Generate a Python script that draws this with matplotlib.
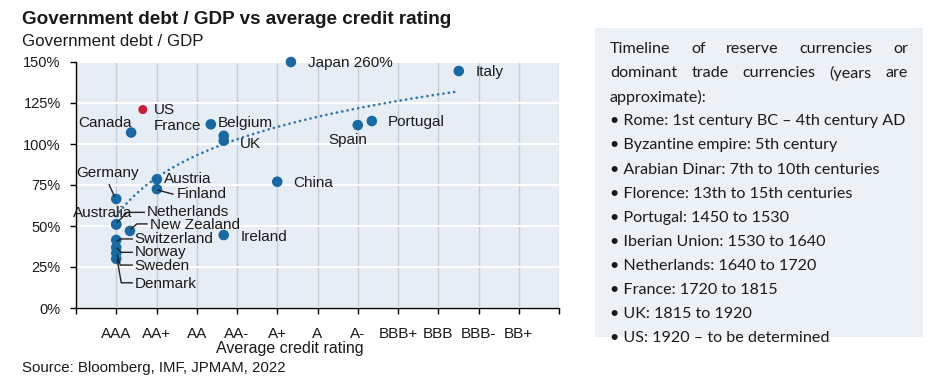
import numpy as np
import matplotlib
matplotlib.use("Agg")
import matplotlib.pyplot as plt
from matplotlib.patches import Rectangle
from matplotlib.lines import Line2D

# ---------------- data ----------------
ratings = ['AAA', 'AA+', 'AA', 'AA-', 'A+', 'A', 'A-', 'BBB+', 'BBB', 'BBB-', 'BB+']
countries = ['US', 'Canada', 'France', 'Belgium', 'UK', 'Austria', 'Finland', 'Germany',
             'Australia', 'Netherlands', 'New Zealand', 'Switzerland', 'Norway', 'Sweden',
             'Denmark', 'Ireland', 'China', 'Japan 260%', 'Spain', 'Portugal', 'Italy']
rating_pos = [1.66, 1.37, 3.35, 3.67, 3.67, 2.01, 2.01, 1.0,
              1.0, 1.0, 1.34, 1.0, 1.0, 1.0,
              1.0, 3.67, 5.0, 5.34, 7.0, 7.35, 9.51]
debt_pct = [121, 107, 112, 105, 102, 78.5, 72.5, 66.5,
            51, 51, 47, 41.5, 37, 33.5,
            30, 44.5, 77, 150, 111.5, 114, 144.5]
trend_a, trend_b = 56.0, 33.8      # log trend: a + b*ln(rating)
trend_range = (1.0, 9.5)
yticks = [0, 25, 50, 75, 100, 125, 150]

timeline_intro = ["Timeline of reserve currencies or",
                  "dominant trade currencies (years are",
                  "approximate):"]
timeline = ["Rome: 1st century BC \u2013 4th century AD",
            "Byzantine empire: 5th century",
            "Arabian Dinar: 7th to 10th centuries",
            "Florence: 13th to 15th centuries",
            "Portugal: 1450 to 1530",
            "Iberian Union: 1530 to 1640",
            "Netherlands: 1640 to 1720",
            "France: 1720 to 1815",
            "UK: 1815 to 1920",
            "US: 1920 \u2013 to be determined"]

# ---------------- style ----------------
W, H = 936, 380
plt.rcParams['font.family'] = ['Liberation Sans', 'DejaVu Sans']
BLUE = '#1b69a3'
RED = '#c81d3a'
TXT = '#1a1a1a'

fig = plt.figure(figsize=(W / 100, H / 100), dpi=100)
fig.patch.set_facecolor('white')
ax = fig.add_axes([76 / W, 1 - 308 / H, (559 - 76) / W, (308 - 62) / H])
ax.set_facecolor('#e6edf4')
ax.set_xlim(0, 12)
ax.set_ylim(0, 150)

ax.set_xticks(range(0, 13))
ax.set_xticklabels([''] + ratings + [''], fontsize=11, color=TXT)
ax.set_yticks(yticks)
ax.set_yticklabels([f'{v}%' for v in yticks], fontsize=10.5, color=TXT)
ax.tick_params(axis='x', length=4, width=1, pad=10, direction='out')
ax.tick_params(axis='y', length=4, width=1, pad=7, direction='out')
for s in ['top', 'right']:
    ax.spines[s].set_visible(False)
for s in ['left', 'bottom']:
    ax.spines[s].set_color('black')
    ax.spines[s].set_linewidth(1.0)
ax.xaxis.grid(True, color='#c9cdd2', lw=1.0)
ax.yaxis.grid(True, color='white', lw=1.5)
ax.set_axisbelow(True)

# trend line
tx = np.linspace(trend_range[0], trend_range[1], 200)
ax.plot(tx, trend_a + trend_b * np.log(tx), color='#2e73a8', lw=1.9,
        linestyle=(0, (0.05, 2.0)), dash_capstyle='round', zorder=2)

# points
colors = [RED if c == 'US' else BLUE for c in countries]
sizes = [42 if c == 'US' else 58 for c in countries]
ax.scatter(rating_pos, debt_pct, s=sizes, c=colors, zorder=3, clip_on=False, linewidths=0)

# label offsets in pixels (dx right, dy down) and alignment
label_style = {
    'US': (11, 0, 'left'), 'Canada': (1, -10, 'right'), 'France': (-10, 2, 'right'),
    'Belgium': (-6, -13, 'left'), 'UK': (16, 3, 'left'), 'Austria': (7, 0, 'left'),
    'Finland': (20, 5, 'left'), 'Germany': (-9, -26, 'center'), 'Australia': (-14, -11, 'center'),
    'Netherlands': (31, -12, 'left'), 'New Zealand': (20, -6, 'left'),
    'Switzerland': (18, -1, 'left'), 'Norway': (18, 5, 'left'), 'Sweden': (18, 13, 'left'),
    'Denmark': (19, 25, 'left'), 'Ireland': (17, 2, 'left'), 'China': (16, 1, 'left'),
    'Japan 260%': (17, 1, 'left'), 'Spain': (-10, 15, 'center'), 'Portugal': (16, 1, 'left'),
    'Italy': (17, 1, 'left'),
}
leaders = {
    'Finland': [(1, 1), (16, 5)],
    'Germany': [(-7, -14), (-2, -3)],
    'Netherlands': [(28, -12), (11, -12), (1, -2)],
    'New Zealand': [(17, -7), (7, -7), (1, -2)],
    'Switzerland': [(16, -1), (5, -1), (1, 1)],
    'Norway': [(1, 1), (5, 5), (16, 5)],
    'Sweden': [(1, 2), (4, 12), (16, 12)],
    'Denmark': [(1, 1), (5, 24), (16, 24)],
}
for c, x, y in zip(countries, rating_pos, debt_pct):
    dx, dy, ha = label_style[c]
    ax.annotate(c, (x, y), xytext=(dx * 0.72, -dy * 0.72), textcoords='offset points',
                ha=ha, va='center', fontsize=11, color=TXT, zorder=4, annotation_clip=False)

fig.canvas.draw()
for c, pts in leaders.items():
    i = countries.index(c)
    px, py = ax.transData.transform((rating_pos[i], debt_pct[i]))
    xs = [px + p[0] for p in pts]
    ys = [py - p[1] for p in pts]
    fig.add_artist(Line2D(xs, ys, transform=None, color='#222222', lw=1.0, zorder=5))

# titles
fig.text(22 / W, 1 - 20 / H, 'Government debt / GDP vs average credit rating',
         fontsize=13.6, fontweight='bold', color=TXT, va='center', ha='left')
fig.text(22 / W, 1 - 42 / H, 'Government debt / GDP', fontsize=12.2, color=TXT,
         va='center', ha='left')
fig.text(290 / W, 1 - 349 / H, 'Average credit rating', fontsize=11.5, color=TXT,
         va='center', ha='center')
fig.text(22 / W, 1 - 368 / H, 'Source: Bloomberg, IMF, JPMAM, 2022', fontsize=10.8,
         color=TXT, va='center', ha='left')

# right-hand box
fig.add_artist(Rectangle((595 / W, 1 - 337 / H), (923 - 595) / W, (337 - 28) / H,
                         transform=fig.transFigure, facecolor='#ecf1f6', edgecolor='none',
                         zorder=0))
box_font = dict(fontsize=11.6, color=TXT, va='center', ha='left', family=['Lato', 'DejaVu Sans'])
x0, x1 = 610, 908
y0, dyl = 49, 24.1
renderer = fig.canvas.get_renderer()


def justify(line, ypx):
    words = line.split(' ')
    ts = [fig.text(0, 1 - ypx / H, w, **box_font) for w in words]
    widths = [t.get_window_extent(renderer).width for t in ts]
    gap = (x1 - x0 - sum(widths)) / (len(words) - 1)
    xp = x0
    for t, w in zip(ts, widths):
        t.set_x(xp / W)
        xp += w + gap


justify(timeline_intro[0], y0)
justify(timeline_intro[1], y0 + dyl)
fig.text(x0 / W, 1 - (y0 + 2 * dyl) / H, timeline_intro[2], **box_font)
for k, item in enumerate(timeline):
    fig.text(x0 / W, 1 - (y0 + (3 + k) * dyl) / H, '\u2022 ' + item, **box_font)

fig.savefig('out.png', dpi=100)
